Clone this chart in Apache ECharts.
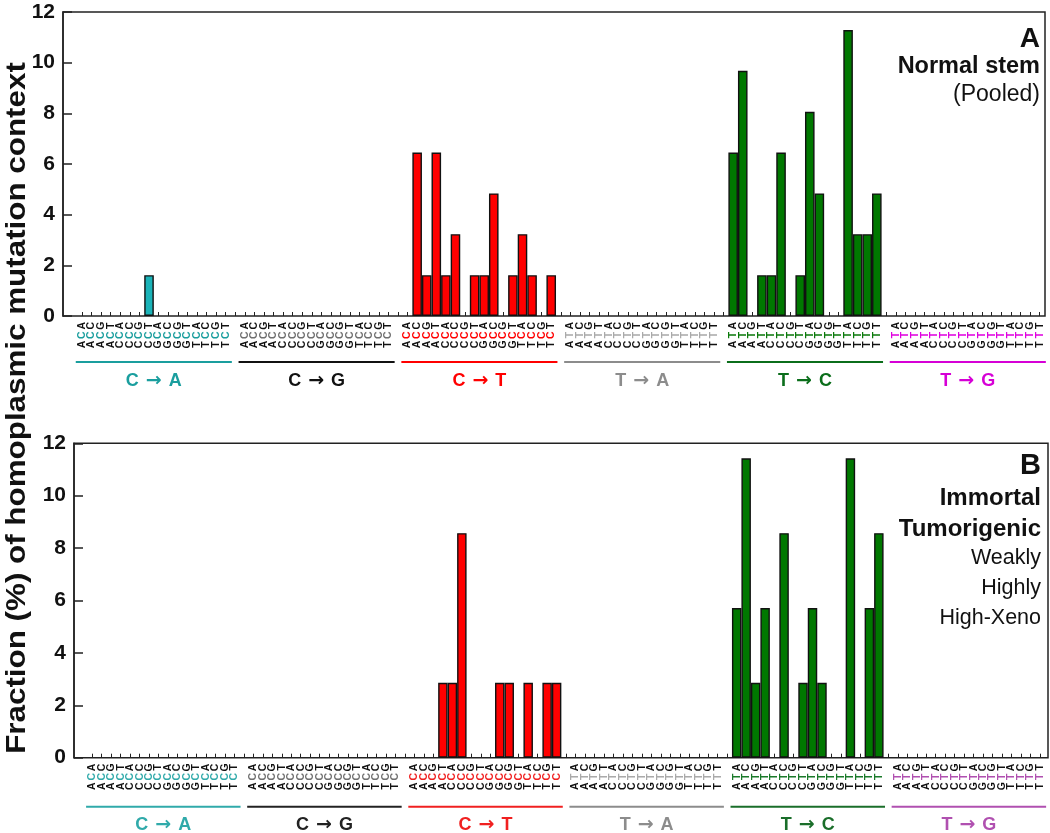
<!DOCTYPE html>
<html><head><meta charset="utf-8">
<script src="https://cdn.jsdelivr.net/npm/echarts@6/dist/echarts.min.js"></script>
<style>html,body{margin:0;padding:0;background:#fff}#c{width:1050px;height:833px}</style>
</head><body><div id="c"></div>
<script>
// ---------- data ----------
const groupFrom = ['C', 'C', 'C', 'T', 'T', 'T'];
const groupTo = ['A', 'G', 'T', 'A', 'C', 'G'];
const refBase = ['C', 'C', 'C', 'T', 'T', 'T'];
const fivePrime = ['A','A','A','A','C','C','C','C','G','G','G','G','T','T','T','T'];
const threePrime = ['A','C','G','T','A','C','G','T','A','C','G','T','A','C','G','T'];
const yTicks = [0, 2, 4, 6, 8, 10, 12];

// Panel A: Normal stem (pooled), % of homoplasmic mutations
const A_CtoA = [0,0,0,0,0,0,0,1.61,0,0,0,0,0,0,0,0];
const A_CtoG = [0,0,0,0,0,0,0,0,0,0,0,0,0,0,0,0];
const A_CtoT = [0,6.45,1.61,6.45,1.61,3.23,0,1.61,1.61,4.84,0,1.61,3.23,1.61,0,1.61];
const A_TtoA = [0,0,0,0,0,0,0,0,0,0,0,0,0,0,0,0];
const A_TtoC = [6.45,9.68,0,1.61,1.61,6.45,0,1.61,8.06,4.84,0,0,11.29,3.23,3.23,4.84];
const A_TtoG = [0,0,0,0,0,0,0,0,0,0,0,0,0,0,0,0];

// Panel B: Immortal tumorigenic
const B_CtoA = [0,0,0,0,0,0,0,0,0,0,0,0,0,0,0,0];
const B_CtoG = [0,0,0,0,0,0,0,0,0,0,0,0,0,0,0,0];
const B_CtoT = [0,0,0,2.86,2.86,8.57,0,0,0,2.86,2.86,0,2.86,0,2.86,2.86];
const B_TtoA = [0,0,0,0,0,0,0,0,0,0,0,0,0,0,0,0];
const B_TtoC = [5.71,11.43,2.86,5.71,0,8.57,0,2.86,5.71,2.86,0,0,11.43,0,5.71,8.57];
const B_TtoG = [0,0,0,0,0,0,0,0,0,0,0,0,0,0,0,0];

// ---------- styles ----------
const FONT = "'Liberation Sans', Arial, Helvetica, sans-serif";
const A_style = {
  bar:   ['#1BB3B8', '#000000', '#FF0000', '#999999', '#007800', '#E000E0'],
  mid:   ['#1A9E9E', '#707070', '#FF0000', '#AAAAAA', '#0B7A0B', '#E000E0'],
  group: ['#1A9E9E', '#111111', '#FF0000', '#8C8C8C', '#0B6E1B', '#D600D6']
};
const B_style = {
  bar:   ['#1BB3B8', '#000000', '#FF0000', '#999999', '#007800', '#B050B0'],
  mid:   ['#30AAAA', '#707070', '#F02020', '#AAAAAA', '#1A7A2A', '#B050B0'],
  group: ['#30AAAA', '#222222', '#F02020', '#8C8C8C', '#1A6E2A', '#B050B0']
};

const SLOTS_PER_GROUP = 17; // 16 contexts + 1 spacer
const categories = [];
for (let g = 0; g < 6; g++) {
  for (let j = 0; j < 16; j++) categories.push(fivePrime[j] + refBase[g] + threePrime[j] + '_' + g);
  if (g < 5) categories.push('gap_' + g);
}

function barData(groupsVals, colors) {
  const out = [];
  groupsVals.forEach((vals, g) => {
    vals.forEach(v => out.push(v > 0 ? { value: v, itemStyle: { color: colors[g] } } : '-'));
    if (g < 5) out.push('-');
  });
  return out;
}

function richFor(st) {
  const base = { fontFamily: FONT, fontSize: 10.5, fontWeight: 'bold', width: 9.4, align: 'center' };
  const r = { b: Object.assign({ color: '#111' }, base) };
  st.mid.forEach((c, i) => { r['m' + i] = Object.assign({ color: c }, base); });
  return r;
}

function labelFormatter(val, idx) {
  const g = Math.floor(idx / SLOTS_PER_GROUP), j = idx % SLOTS_PER_GROUP;
  if (j === 16) return '';
  return '{b|' + fivePrime[j] + '}{m' + g + '|' + refBase[g] + '}{b|' + threePrime[j] + '}';
}

const panels = [
  { frame: { left: 63, right: 5, top: 12, height: 304 }, bars: { left: 77.2, right: 5.6, top: 12, height: 304 },
    vals: [A_CtoA, A_CtoG, A_CtoT, A_TtoA, A_TtoC, A_TtoG], st: A_style, lineOff: 46, textOff: 65 },
  { frame: { left: 74, right: 2, top: 443.3, height: 314.4 }, bars: { left: 87.5, right: 5.3, top: 443.3, height: 314.4 },
    vals: [B_CtoA, B_CtoG, B_CtoT, B_TtoA, B_TtoC, B_TtoG], st: B_style, lineOff: 49, textOff: 67 }
];

const grid = [], xAxis = [], yAxis = [], series = [];
panels.forEach((p, pi) => {
  const fi = grid.length;
  grid.push(Object.assign({ show: true, borderColor: '#222', borderWidth: 1.5, backgroundColor: 'transparent', outerBoundsMode: 'none', containLabel: false }, p.frame));
  xAxis.push({ gridIndex: fi, type: 'value', min: 0, max: 1, show: false });
  yAxis.push({ gridIndex: fi, type: 'value', min: yTicks[0], max: yTicks[yTicks.length - 1], interval: yTicks[1] - yTicks[0],
    axisLine: { show: true, lineStyle: { color: '#222', width: 1.5 } },
    axisTick: { show: true, inside: true, length: 9, lineStyle: { color: '#222', width: 1.5 } },
    splitLine: { show: false },
    axisLabel: { fontFamily: FONT, fontSize: 21, fontWeight: 'bold', color: '#111', margin: 8 } });
  const bi = grid.length;
  grid.push(Object.assign({ show: false, outerBoundsMode: 'none', containLabel: false }, p.bars));
  xAxis.push({ gridIndex: bi, type: 'category', data: categories, boundaryGap: true,
    axisLine: { show: false },
    axisTick: { show: true, inside: true, length: 4, alignWithLabel: true, interval: 0, lineStyle: { color: '#222', width: 1 } },
    axisLabel: { interval: 0, rotate: 90, margin: 5, hideOverlap: false, formatter: labelFormatter, rich: richFor(p.st) } });
  yAxis.push({ gridIndex: bi, type: 'value', min: 0, max: 12, show: false });
  series.push({ type: 'bar', xAxisIndex: bi, yAxisIndex: bi, data: barData(p.vals, p.st.bar),
    barCategoryGap: '0%', itemStyle: { borderColor: '#111', borderWidth: 1.4 }, silent: true, animation: false });
  series.push({ type: 'custom', xAxisIndex: bi, yAxisIndex: bi, clip: false, silent: true, animation: false,
    data: [0, 1, 2, 3, 4, 5].map(g => [g * SLOTS_PER_GROUP, g * SLOTS_PER_GROUP + 15]),
    encode: { x: [0, 1] },
    renderItem: (params, api) => {
      const g = params.dataIndex;
      const a = api.coord([api.value(0), 0]);
      const b = api.coord([api.value(1), 0]);
      const s = api.size([1, 0])[0];
      const x0 = a[0] - 0.65 * s, x1 = b[0] + 0.65 * s;
      const col = p.st.group[g];
      return { type: 'group', children: [
        { type: 'line', shape: { x1: x0, y1: a[1] + p.lineOff, x2: x1, y2: a[1] + p.lineOff }, style: { stroke: col, lineWidth: 2 } },
        { type: 'text', x: (x0 + x1) / 2, y: a[1] + p.textOff,
          style: { text: '{l|' + groupFrom[g] + '}{ar|\u2192}{l|' + groupTo[g] + '}', align: 'center', verticalAlign: 'middle',
            rich: {
              l: { fill: col, font: 'bold 18px ' + FONT },
              ar: { fill: col, font: 'bold 19px "DejaVu Sans"', padding: [0, 7, 0, 7] }
            } } }
      ] };
    } });
});

const txt = (t, x, y, size, bold) => ({ type: 'text', x: x, y: y, silent: true,
  style: { text: t, fill: '#111', font: (bold ? 'bold ' : '') + size + 'px ' + FONT, align: 'right', verticalAlign: 'middle' } });

const option = {
  animation: false,
  backgroundColor: '#fff',
  grid, xAxis, yAxis, series,
  graphic: [
    { type: 'text', x: 17, y: 408, rotation: Math.PI / 2, scaleX: 1.12, silent: true,
      style: { text: 'Fraction (%) of homoplasmic mutation context', fill: '#111', font: 'bold 28px ' + FONT, align: 'center', verticalAlign: 'middle' } },
    txt('A', 1040, 39, 28, true),
    txt('Normal stem', 1040, 67, 23.5, true),
    txt('(Pooled)', 1040, 95, 23, false),
    txt('B', 1041, 466, 29, true),
    txt('Immortal', 1041, 498, 24, true),
    txt('Tumorigenic', 1041, 529, 24, true),
    txt('Weakly', 1041, 558, 21.5, false),
    txt('Highly', 1041, 588, 21.5, false),
    txt('High-Xeno', 1041, 618, 21.5, false)
  ]
};
const chart = echarts.init(document.getElementById('c'), null, { renderer: 'canvas' });
chart.setOption(option);
</script></body></html>
